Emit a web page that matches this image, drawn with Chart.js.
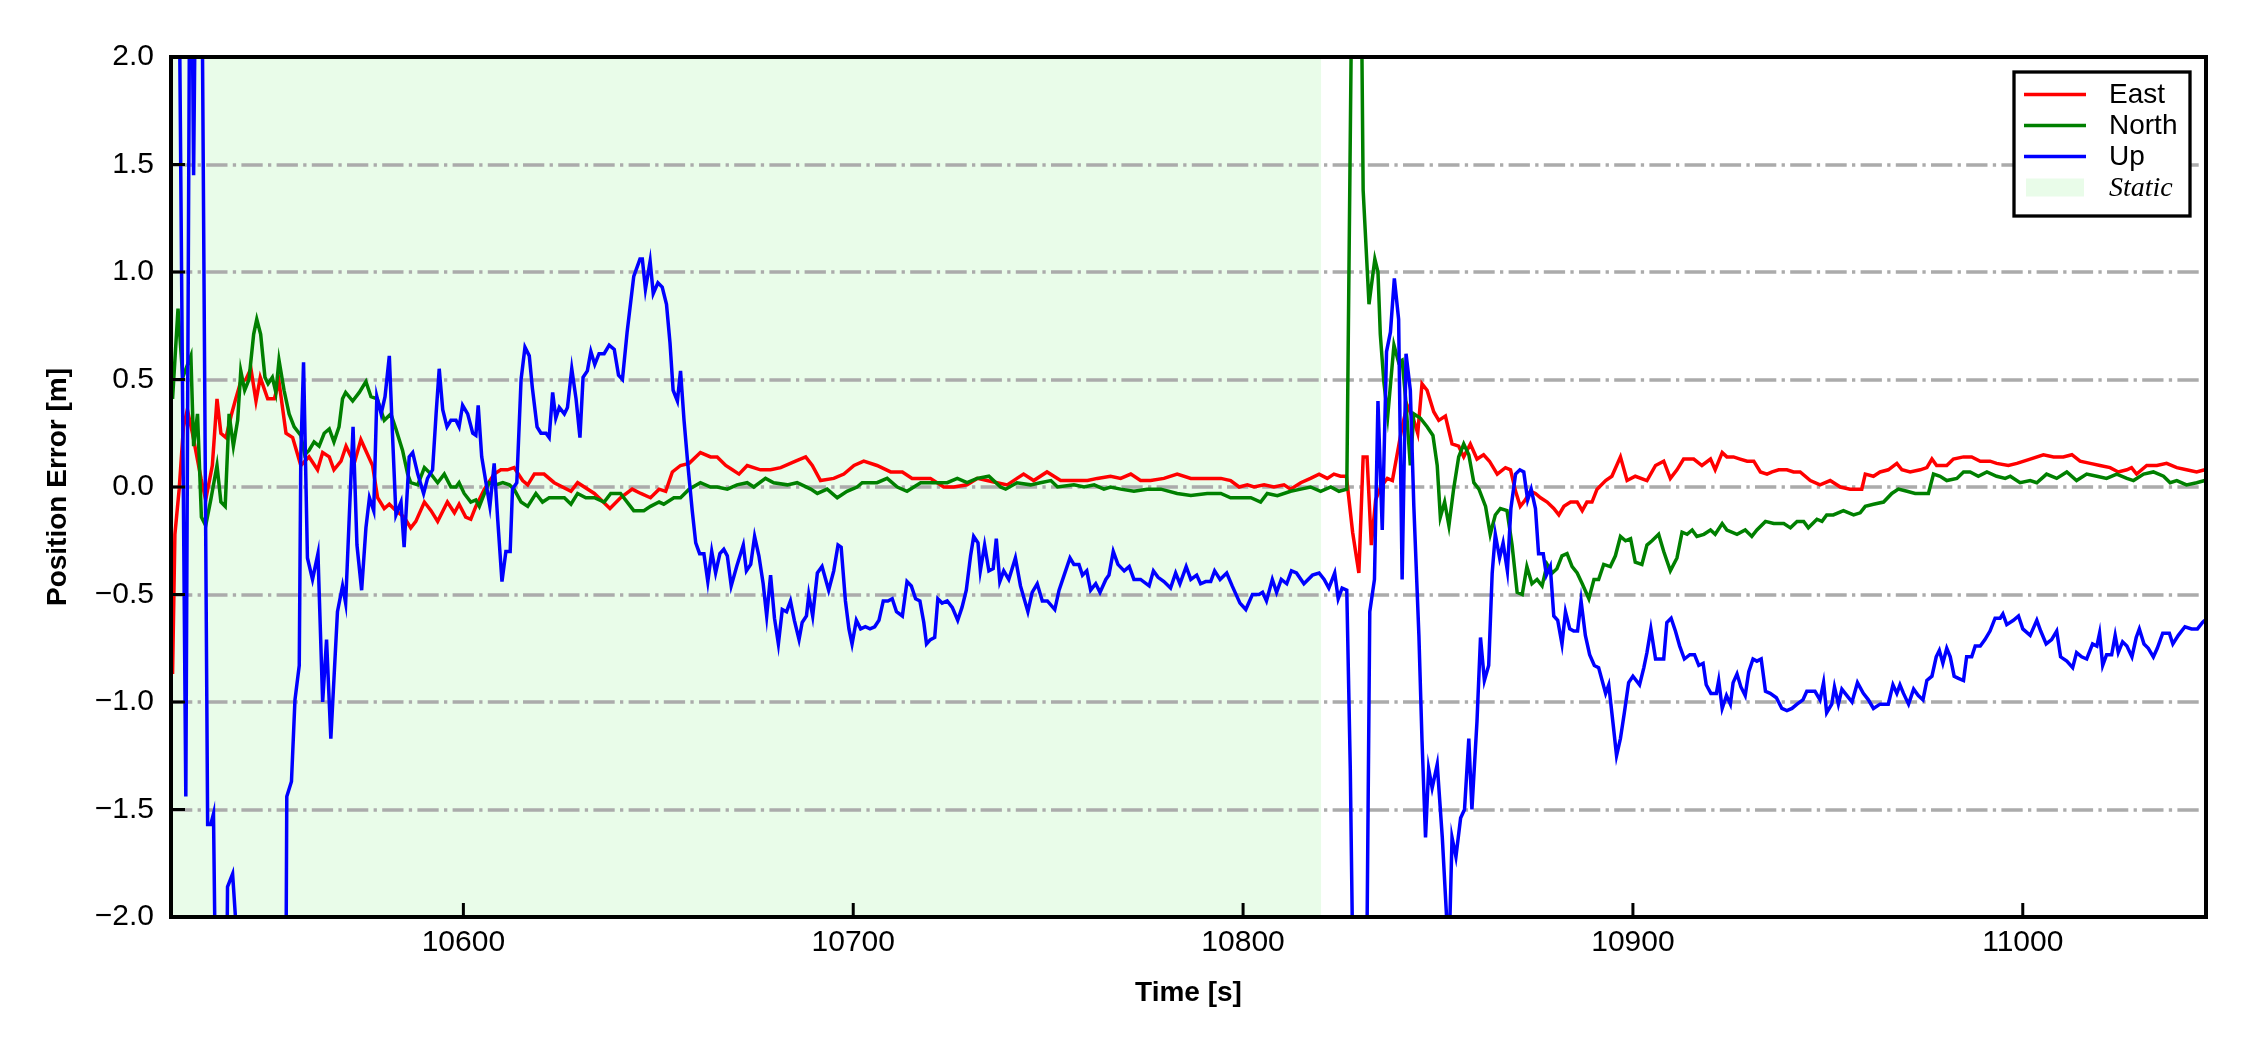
<!DOCTYPE html>
<html>
<head>
<meta charset="utf-8">
<script src="https://cdn.jsdelivr.net/npm/chart.js@4.4.1/dist/chart.umd.min.js"></script>
<style>
  html, body { margin: 0; padding: 0; background: #ffffff; }
  #wrap { width: 2250px; height: 1050px; }
</style>
</head>
<body>
<div id="wrap"><canvas id="chart" width="2250" height="1050"></canvas></div>
<script>
// ============================================================
// Position error (ENU) vs time, static window shaded
// ============================================================

// ---------- DATOS ----------
const xTicks = [10600, 10700, 10800, 10900, 11000];
const yTicks = [-2, -1.5, -1, -0.5, 0, 0.5, 1, 1.5, 2];
const staticSpan = [10525, 10820];

const eastTime = [
  10525.4, 10526.0, 10527.1, 10528.2, 10529.2, 10530.5, 10532.7, 10533.9, 10535.6, 10536.8,
  10537.8, 10539.1, 10540.4, 10541.6, 10542.9, 10544.2, 10545.5, 10546.8, 10547.9, 10549.8,
  10551.5, 10552.7, 10554.5, 10556.2, 10558.3, 10560.4, 10562.6, 10563.9, 10565.6, 10566.8,
  10568.6, 10569.9, 10572.0, 10573.7, 10576.7, 10578.0, 10579.7, 10581.0, 10582.7, 10584.8,
  10586.5, 10587.8, 10590.0, 10591.7, 10593.4, 10595.9, 10597.7, 10598.9, 10600.6, 10601.9,
  10603.2, 10605.4, 10607.9, 10609.6, 10611.3, 10613.0, 10615.2, 10616.5, 10618.2, 10620.7,
  10623.3, 10627.6, 10629.3, 10633.6, 10637.6, 10640.3, 10643.3, 10645.5, 10648.0, 10650.2,
  10651.9, 10653.6, 10655.7, 10657.9, 10660.8, 10663.4, 10665.1, 10667.3, 10669.0, 10670.7,
  10672.8, 10676.2, 10678.8, 10681.4, 10685.2, 10687.8, 10689.5, 10691.6, 10695.0, 10697.6,
  10700.2, 10702.7, 10706.1, 10709.6, 10712.6, 10715.1, 10719.8, 10723.2, 10725.8, 10729.2,
  10731.8, 10736.9, 10739.5, 10742.0, 10743.7, 10746.3, 10749.7, 10753.2, 10756.6, 10760.1,
  10762.6, 10766.0, 10768.6, 10771.2, 10773.7, 10776.3, 10779.7, 10783.1, 10786.6, 10790.8,
  10794.3, 10796.8, 10799.0, 10801.1, 10802.8, 10805.4, 10807.9, 10810.5, 10812.2, 10814.8,
  10817.3, 10819.5, 10821.6, 10823.3, 10825.0, 10826.5, 10828.1, 10829.7, 10830.8, 10831.8,
  10832.9, 10834.0, 10835.3, 10837.0, 10838.3, 10839.5, 10840.8, 10842.1, 10843.8, 10844.8,
  10845.9, 10847.2, 10848.9, 10850.2, 10851.9, 10853.6, 10855.3, 10856.6, 10858.3, 10860.0,
  10861.7, 10863.2, 10865.2, 10867.3, 10868.6, 10869.9, 10871.1, 10872.4, 10873.7, 10875.0,
  10876.3, 10878.0, 10879.7, 10881.0, 10882.3, 10884.0, 10885.7, 10887.0, 10888.2, 10889.5,
  10890.8, 10893.0, 10894.6, 10896.8, 10898.5, 10900.6, 10903.6, 10905.8, 10907.9, 10909.6,
  10911.3, 10913.0, 10915.6, 10917.7, 10919.9, 10921.1, 10922.9, 10924.1, 10925.8, 10927.5,
  10929.3, 10931.0, 10932.7, 10934.4, 10935.7, 10937.4, 10939.5, 10941.2, 10942.9, 10945.5,
  10948.0, 10950.6, 10953.2, 10955.7, 10958.7, 10959.6, 10961.7, 10963.4, 10965.5, 10967.7,
  10969.0, 10971.1, 10973.7, 10975.4, 10976.7, 10977.9, 10980.5, 10982.2, 10984.8, 10986.9,
  10989.1, 10991.6, 10993.3, 10996.3, 10998.5, 11001.9, 11005.3, 11007.9, 11010.4, 11012.6,
  11014.7, 11017.3, 11019.8, 11022.4, 11024.5, 11026.7, 11027.9, 11029.2, 11031.8, 11034.4,
  11036.9, 11039.5, 11042.0, 11044.6, 11046.7
];
const eastErr = [
  -0.87, -0.22, -0.01, 0.28, 0.36, 0.25, 0.04, -0.06, 0.10, 0.41,
  0.25, 0.23, 0.33, 0.41, 0.49, 0.50, 0.55, 0.40, 0.51, 0.41,
  0.41, 0.49, 0.25, 0.23, 0.10, 0.14, 0.08, 0.16, 0.14, 0.08,
  0.12, 0.19, 0.11, 0.22, 0.10, -0.05, -0.10, -0.08, -0.11, -0.14,
  -0.19, -0.16, -0.07, -0.11, -0.16, -0.07, -0.12, -0.08, -0.14, -0.15,
  -0.09, -0.01, 0.06, 0.08, 0.08, 0.09, 0.03, 0.01, 0.06, 0.06,
  0.02, -0.02, 0.02, -0.03, -0.10, -0.05, -0.01, -0.03, -0.05, -0.01,
  -0.02, 0.07, 0.10, 0.11, 0.16, 0.14, 0.14, 0.10, 0.08, 0.06,
  0.10, 0.08, 0.08, 0.09, 0.12, 0.14, 0.10, 0.03, 0.04, 0.06,
  0.10, 0.12, 0.10, 0.07, 0.07, 0.04, 0.04, 0.00, 0.00, 0.01,
  0.04, 0.02, 0.01, 0.04, 0.06, 0.03, 0.07, 0.03, 0.03, 0.03,
  0.04, 0.05, 0.04, 0.06, 0.03, 0.03, 0.04, 0.06, 0.04, 0.04,
  0.04, 0.03, 0.00, 0.01, 0.00, 0.01, 0.00, 0.01, -0.01, 0.02,
  0.04, 0.06, 0.04, 0.06, 0.05, 0.05, -0.21, -0.40, 0.14, 0.14,
  -0.27, -0.06, 0.00, 0.04, 0.03, 0.15, 0.28, 0.38, 0.31, 0.25,
  0.48, 0.45, 0.35, 0.31, 0.33, 0.20, 0.19, 0.14, 0.20, 0.13,
  0.15, 0.12, 0.06, 0.09, 0.08, -0.02, -0.09, -0.06, -0.02, -0.03,
  -0.05, -0.07, -0.10, -0.13, -0.09, -0.07, -0.07, -0.11, -0.07, -0.07,
  -0.01, 0.03, 0.05, 0.14, 0.03, 0.05, 0.03, 0.10, 0.12, 0.04,
  0.08, 0.13, 0.13, 0.10, 0.13, 0.08, 0.16, 0.14, 0.14, 0.13,
  0.12, 0.12, 0.07, 0.06, 0.07, 0.08, 0.08, 0.07, 0.07, 0.03,
  0.01, 0.03, 0.00, -0.01, -0.01, 0.06, 0.05, 0.07, 0.08, 0.11,
  0.08, 0.07, 0.08, 0.09, 0.13, 0.10, 0.10, 0.13, 0.14, 0.14,
  0.12, 0.12, 0.11, 0.10, 0.11, 0.13, 0.15, 0.14, 0.14, 0.15,
  0.12, 0.11, 0.10, 0.09, 0.07, 0.08, 0.09, 0.06, 0.10, 0.10,
  0.11, 0.09, 0.08, 0.07, 0.08
];

const northTime = [
  10525.4, 10526.8, 10528.0, 10530.1, 10530.8, 10531.8, 10532.8, 10533.9, 10535.2, 10536.8,
  10537.8, 10538.9, 10539.9, 10541.0, 10542.1, 10542.9, 10543.9, 10545.0, 10546.2, 10547.0,
  10548.0, 10549.1, 10549.9, 10551.0, 10551.9, 10552.7, 10554.0, 10555.3, 10556.6, 10558.3,
  10559.3, 10560.4, 10561.7, 10563.0, 10564.3, 10565.6, 10566.8, 10568.1, 10569.0, 10569.8,
  10571.6, 10573.3, 10575.0, 10576.3, 10577.9, 10579.7, 10581.4, 10582.7, 10584.4, 10585.7,
  10586.5, 10588.3, 10590.0, 10591.7, 10593.4, 10595.1, 10596.8, 10598.1, 10598.9, 10600.2,
  10601.9, 10603.2, 10604.1, 10605.4, 10606.6, 10608.3, 10610.1, 10611.8, 10613.0, 10614.8,
  10616.5, 10618.6, 10620.3, 10622.0, 10623.7, 10625.9, 10627.6, 10629.3, 10631.4, 10633.6,
  10636.1, 10637.8, 10640.3, 10643.7, 10646.3, 10648.0, 10650.2, 10651.4, 10654.0, 10655.7,
  10657.9, 10660.8, 10663.4, 10665.1, 10667.7, 10670.2, 10672.8, 10674.5, 10677.5, 10679.6,
  10683.1, 10685.6, 10689.1, 10690.8, 10693.3, 10695.9, 10698.4, 10701.0, 10702.3, 10706.1,
  10708.7, 10711.3, 10713.8, 10717.3, 10720.7, 10724.1, 10726.7, 10729.2, 10731.8, 10734.8,
  10737.8, 10739.1, 10742.0, 10745.5, 10748.0, 10750.7, 10752.4, 10756.6, 10759.2, 10761.8,
  10764.3, 10766.0, 10768.6, 10772.0, 10775.4, 10778.9, 10783.1, 10786.6, 10790.8, 10794.3,
  10796.8, 10799.4, 10802.0, 10804.5, 10806.2, 10808.8, 10812.2, 10814.8, 10817.3, 10819.9,
  10822.5, 10824.6, 10826.6, 10828.8, 10830.0, 10830.8, 10832.3, 10833.8, 10834.6, 10835.2,
  10836.1, 10837.1, 10838.7, 10839.9, 10840.8, 10841.7, 10842.9, 10843.8, 10845.5, 10847.2,
  10848.7, 10849.8, 10850.6, 10851.7, 10852.8, 10854.0, 10855.3, 10856.6, 10857.9, 10859.2,
  10860.5, 10862.2, 10863.4, 10864.7, 10866.0, 10867.7, 10869.0, 10870.3, 10871.6, 10872.8,
  10874.1, 10875.4, 10876.7, 10878.0, 10879.3, 10880.5, 10881.8, 10883.1, 10884.4, 10885.7,
  10887.0, 10888.7, 10890.0, 10891.2, 10892.5, 10894.2, 10895.5, 10896.8, 10898.1, 10899.4,
  10900.6, 10902.3, 10903.6, 10904.9, 10906.6, 10907.9, 10909.6, 10911.3, 10912.6, 10913.9,
  10915.2, 10916.4, 10918.2, 10919.9, 10921.1, 10922.9, 10924.1, 10926.7, 10928.8, 10930.5,
  10931.8, 10934.0, 10936.1, 10938.7, 10940.4, 10942.1, 10943.8, 10945.0, 10947.2, 10948.5,
  10949.7, 10951.4, 10954.0, 10956.6, 10958.3, 10959.6, 10961.7, 10964.3, 10966.4, 10968.1,
  10970.3, 10972.4, 10975.8, 10977.1, 10978.8, 10980.5, 10983.1, 10984.8, 10986.5, 10988.6,
  10990.8, 10993.3, 10995.5, 10996.8, 10999.3, 11001.9, 11003.6, 11006.1, 11008.7, 11011.3,
  11013.8, 11016.4, 11019.0, 11021.5, 11024.1, 11026.7, 11028.4, 11031.0, 11033.5, 11036.1,
  11037.8, 11039.5, 11042.0, 11044.6, 11046.7
];
const northErr = [
  0.41, 0.83, 0.51, 0.61, 0.19, 0.34, -0.14, -0.18, -0.06, 0.10,
  -0.07, -0.09, 0.34, 0.19, 0.31, 0.54, 0.45, 0.50, 0.71, 0.78,
  0.71, 0.51, 0.48, 0.51, 0.44, 0.59, 0.45, 0.34, 0.28, 0.24,
  0.15, 0.17, 0.21, 0.19, 0.25, 0.27, 0.21, 0.28, 0.41, 0.44,
  0.40, 0.44, 0.49, 0.42, 0.41, 0.31, 0.34, 0.27, 0.17, 0.06,
  0.02, 0.01, 0.09, 0.06, 0.02, 0.06, 0.00, 0.00, 0.02, -0.03,
  -0.07, -0.06, -0.09, -0.03, 0.02, 0.01, 0.02, 0.01, -0.01, -0.07,
  -0.09, -0.03, -0.07, -0.05, -0.05, -0.05, -0.08, -0.03, -0.05, -0.05,
  -0.07, -0.03, -0.03, -0.11, -0.11, -0.09, -0.07, -0.08, -0.05, -0.05,
  -0.01, 0.02, 0.00, 0.00, -0.01, 0.01, 0.02, 0.00, 0.04, 0.02,
  0.01, 0.02, -0.01, -0.03, -0.01, -0.05, -0.02, 0.00, 0.02, 0.02,
  0.04, 0.00, -0.02, 0.02, 0.02, 0.02, 0.04, 0.02, 0.04, 0.05,
  0.00, -0.01, 0.02, 0.01, 0.02, 0.03, 0.00, 0.01, 0.00, 0.01,
  -0.01, 0.00, -0.01, -0.02, -0.01, -0.01, -0.03, -0.04, -0.03, -0.03,
  -0.05, -0.05, -0.05, -0.07, -0.03, -0.04, -0.02, -0.01, 0.00, -0.02,
  0.00, -0.02, -0.01, 4.00, 3.00, 1.38, 0.85, 1.06, 1.00, 0.71,
  0.49, 0.33, 0.66, 0.58, 0.59, 0.41, 0.10, 0.34, 0.32, 0.28,
  0.24, 0.10, -0.14, -0.07, -0.18, -0.01, 0.14, 0.20, 0.15, 0.02,
  -0.01, -0.09, -0.22, -0.13, -0.10, -0.11, -0.27, -0.49, -0.50, -0.37,
  -0.45, -0.43, -0.46, -0.36, -0.40, -0.38, -0.32, -0.31, -0.37, -0.40,
  -0.45, -0.52, -0.43, -0.43, -0.36, -0.37, -0.32, -0.23, -0.25, -0.24,
  -0.35, -0.36, -0.27, -0.25, -0.22, -0.30, -0.39, -0.33, -0.21, -0.22,
  -0.20, -0.23, -0.22, -0.20, -0.22, -0.17, -0.20, -0.22, -0.20, -0.23,
  -0.20, -0.16, -0.17, -0.17, -0.19, -0.16, -0.16, -0.19, -0.15, -0.16,
  -0.13, -0.13, -0.11, -0.13, -0.12, -0.09, -0.08, -0.07, -0.03, -0.01,
  -0.02, -0.03, -0.03, 0.06, 0.05, 0.03, 0.04, 0.07, 0.07, 0.05,
  0.07, 0.05, 0.04, 0.05, 0.02, 0.03, 0.02, 0.06, 0.04, 0.07,
  0.03, 0.06, 0.05, 0.04, 0.06, 0.04, 0.03, 0.06, 0.07, 0.05,
  0.02, 0.03, 0.01, 0.02, 0.03
];

const upTime = [
  10525.4, 10527.0, 10528.8, 10530.0, 10530.8, 10531.8, 10532.5, 10534.4, 10535.2, 10535.9,
  10537.0, 10539.0, 10539.5, 10540.8, 10543.0, 10546.0, 10550.0, 10554.3, 10554.7, 10555.9,
  10556.8, 10557.9, 10558.3, 10559.0, 10560.0, 10561.3, 10562.7, 10563.9, 10564.9, 10566.0,
  10567.7, 10569.0, 10569.8, 10571.7, 10572.7, 10573.9, 10575.0, 10575.9, 10577.0, 10577.8,
  10578.9, 10579.9, 10581.0, 10581.8, 10582.7, 10584.0, 10584.8, 10586.1, 10587.0, 10588.3,
  10589.8, 10590.8, 10592.1, 10593.0, 10593.8, 10594.7, 10595.8, 10596.8, 10598.1, 10598.9,
  10599.8, 10601.1, 10602.4, 10603.2, 10603.8, 10604.7, 10605.8, 10606.8, 10607.9, 10608.8,
  10609.9, 10610.9, 10612.0, 10612.6, 10613.7, 10614.8, 10615.8, 10616.9, 10617.7, 10618.9,
  10619.9, 10621.2, 10622.0, 10622.9, 10623.7, 10624.6, 10625.9, 10626.7, 10627.8, 10628.9,
  10629.9, 10630.7, 10631.8, 10632.7, 10633.7, 10634.8, 10636.1, 10637.4, 10638.7, 10639.8,
  10640.8, 10642.0, 10643.7, 10645.3, 10645.9, 10646.7, 10647.9, 10648.7, 10649.9, 10651.0,
  10652.1, 10653.0, 10653.8, 10654.9, 10655.7, 10656.6, 10657.6, 10658.7, 10659.6, 10660.6,
  10661.7, 10662.7, 10663.7, 10664.7, 10665.8, 10666.8, 10667.7, 10668.7, 10670.1, 10671.8,
  10672.6, 10673.7, 10674.7, 10675.8, 10676.9, 10677.8, 10678.8, 10679.8, 10680.8, 10681.8,
  10682.9, 10683.9, 10684.9, 10686.1, 10686.9, 10688.0, 10688.6, 10689.6, 10690.8, 10692.0,
  10693.7, 10695.0, 10696.1, 10696.9, 10698.0, 10698.9, 10699.7, 10700.8, 10701.9, 10703.1,
  10704.3, 10705.5, 10706.6, 10707.7, 10708.9, 10710.0, 10711.1, 10712.6, 10713.8, 10714.9,
  10716.0, 10717.1, 10718.1, 10718.8, 10719.8, 10720.9, 10721.7, 10722.8, 10724.1, 10725.4,
  10726.8, 10727.9, 10729.0, 10730.1, 10730.9, 10732.0, 10732.6, 10733.7, 10734.8, 10735.9,
  10736.7, 10737.6, 10738.6, 10739.9, 10741.6, 10742.9, 10744.8, 10745.9, 10747.2, 10748.5,
  10749.8, 10751.7, 10752.8, 10754.1, 10755.6, 10756.6, 10757.9, 10758.8, 10759.9, 10760.9,
  10762.2, 10763.3, 10764.8, 10765.6, 10766.7, 10767.9, 10769.5, 10770.8, 10772.0, 10773.7,
  10775.9, 10777.0, 10778.2, 10779.7, 10781.4, 10782.7, 10783.8, 10785.4, 10786.6, 10788.1,
  10789.1, 10790.4, 10791.7, 10792.7, 10794.1, 10795.8, 10797.2, 10799.2, 10800.7, 10802.4,
  10804.1, 10805.0, 10806.0, 10807.5, 10808.6, 10809.8, 10811.2, 10812.4, 10813.7, 10815.6,
  10817.8, 10819.5, 10820.8, 10822.0, 10823.5, 10824.4, 10825.4, 10826.6, 10827.5, 10829.0,
  10831.0, 10831.4, 10832.5, 10833.7, 10834.6, 10835.7, 10836.8, 10837.8, 10838.8, 10839.9,
  10840.8, 10841.8, 10842.9, 10843.8, 10845.1, 10845.9, 10846.8, 10847.6, 10848.5, 10849.8,
  10851.1, 10852.5, 10853.0, 10853.6, 10854.6, 10855.8, 10856.8, 10857.9, 10858.7, 10860.0,
  10860.9, 10861.9, 10863.0, 10863.9, 10864.7, 10865.8, 10866.7, 10867.8, 10868.7, 10869.9,
  10871.0, 10872.0, 10873.0, 10873.9, 10875.0, 10875.8, 10877.0, 10877.8, 10878.8, 10879.7,
  10880.7, 10881.8, 10882.7, 10883.8, 10884.8, 10885.8, 10886.7, 10887.8, 10888.9, 10890.1,
  10891.2, 10892.1, 10893.0, 10893.8, 10894.9, 10895.8, 10896.8, 10897.8, 10898.9, 10900.0,
  10901.7, 10902.8, 10903.6, 10904.6, 10905.8, 10906.9, 10907.9, 10908.7, 10909.8, 10910.9,
  10912.0, 10913.2, 10914.6, 10915.8, 10916.9, 10918.0, 10918.8, 10920.0, 10921.4, 10922.0,
  10922.9, 10924.0, 10925.0, 10925.7, 10926.7, 10927.7, 10928.8, 10929.7, 10930.8, 10931.8,
  10932.9, 10934.0, 10935.2, 10936.8, 10938.2, 10939.5, 10940.8, 10942.1, 10943.6, 10944.6,
  10946.7, 10948.0, 10948.9, 10949.7, 10951.0, 10951.7, 10952.7, 10953.6, 10954.9, 10956.2,
  10957.6, 10959.1, 10960.4, 10961.7, 10963.4, 10965.5, 10966.7, 10967.7, 10968.5, 10969.4,
  10970.7, 10972.0, 10973.2, 10974.4, 10975.4, 10976.7, 10977.8, 10978.6, 10979.5, 10980.5,
  10981.4, 10982.4, 10983.5, 10984.8, 10985.6, 10986.9, 10987.8, 10989.1, 10990.3, 10991.6,
  10992.9, 10994.2, 10994.9, 10995.9, 10997.6, 10998.9, 11000.0, 11001.9, 11003.6, 11004.6,
  11006.0, 11007.4, 11008.7, 11009.7, 11011.3, 11012.8, 11013.8, 11015.1, 11016.4, 11017.9,
  11019.0, 11019.7, 11020.5, 11021.5, 11022.8, 11023.7, 11024.5, 11025.6, 11026.7, 11028.0,
  11029.1, 11029.9, 11031.1, 11032.2, 11033.5, 11034.5, 11035.9, 11037.6, 11038.5, 11039.9,
  11041.6, 11043.3, 11044.8, 11046.1, 11046.7
];
const upErr = [
  3.50, 2.60, -1.44, 3.20, 1.45, 3.40, 3.60, -1.57, -1.57, -1.52,
  -3.20, -3.00, -1.86, -1.80, -2.40, -3.50, -3.40, -3.00, -1.44, -1.37,
  -0.99, -0.83, 0.15, 0.58, -0.33, -0.43, -0.31, -1.00, -0.71, -1.17,
  -0.58, -0.46, -0.54, 0.28, -0.27, -0.48, -0.19, -0.05, -0.11, 0.42,
  0.34, 0.42, 0.61, 0.25, -0.13, -0.07, -0.28, 0.14, 0.16, 0.06,
  -0.03, 0.04, 0.08, 0.34, 0.55, 0.36, 0.28, 0.31, 0.31, 0.28,
  0.38, 0.34, 0.25, 0.24, 0.38, 0.14, 0.02, -0.09, 0.11, -0.15,
  -0.44, -0.30, -0.30, -0.01, 0.02, 0.50, 0.65, 0.61, 0.46, 0.28,
  0.25, 0.25, 0.23, 0.44, 0.32, 0.37, 0.34, 0.37, 0.55, 0.41,
  0.23, 0.51, 0.54, 0.63, 0.57, 0.62, 0.62, 0.66, 0.64, 0.52,
  0.50, 0.72, 0.98, 1.06, 1.06, 0.92, 1.05, 0.90, 0.95, 0.93,
  0.85, 0.67, 0.45, 0.40, 0.54, 0.31, 0.10, -0.11, -0.26, -0.31,
  -0.31, -0.44, -0.30, -0.40, -0.31, -0.29, -0.32, -0.46, -0.37, -0.27,
  -0.39, -0.36, -0.23, -0.32, -0.45, -0.60, -0.41, -0.61, -0.73, -0.57,
  -0.58, -0.53, -0.62, -0.71, -0.63, -0.60, -0.50, -0.60, -0.40, -0.37,
  -0.48, -0.39, -0.27, -0.28, -0.53, -0.66, -0.73, -0.62, -0.66, -0.65,
  -0.66, -0.65, -0.62, -0.53, -0.53, -0.52, -0.58, -0.60, -0.44, -0.46,
  -0.52, -0.53, -0.63, -0.73, -0.71, -0.70, -0.52, -0.54, -0.53, -0.56,
  -0.62, -0.56, -0.48, -0.32, -0.23, -0.26, -0.39, -0.27, -0.39, -0.38,
  -0.24, -0.44, -0.39, -0.43, -0.33, -0.46, -0.58, -0.49, -0.45, -0.53,
  -0.53, -0.57, -0.48, -0.41, -0.33, -0.36, -0.36, -0.41, -0.39, -0.48,
  -0.45, -0.49, -0.43, -0.41, -0.30, -0.36, -0.39, -0.37, -0.43, -0.43,
  -0.46, -0.39, -0.42, -0.44, -0.47, -0.40, -0.45, -0.37, -0.43, -0.41,
  -0.45, -0.44, -0.44, -0.39, -0.43, -0.40, -0.46, -0.54, -0.57, -0.50,
  -0.50, -0.49, -0.53, -0.43, -0.49, -0.43, -0.45, -0.39, -0.40, -0.45,
  -0.41, -0.40, -0.43, -0.47, -0.40, -0.52, -0.47, -0.48, -1.31, -3.40,
  -3.20, -2.90, -0.58, -0.43, 0.40, -0.20, 0.63, 0.72, 0.97, 0.78,
  -0.43, 0.62, 0.45, -0.09, -0.69, -1.18, -1.63, -1.31, -1.40, -1.29,
  -1.63, -2.10, -2.05, -1.63, -1.72, -1.54, -1.50, -1.17, -1.50, -1.09,
  -0.70, -0.90, -0.83, -0.40, -0.22, -0.33, -0.26, -0.39, -0.10, 0.06,
  0.08, 0.07, -0.06, -0.01, -0.10, -0.31, -0.31, -0.41, -0.37, -0.60,
  -0.62, -0.73, -0.58, -0.66, -0.67, -0.67, -0.53, -0.69, -0.78, -0.83,
  -0.84, -0.90, -0.96, -0.92, -1.10, -1.25, -1.17, -1.05, -0.91, -0.88,
  -0.92, -0.84, -0.77, -0.66, -0.80, -0.80, -0.80, -0.63, -0.61, -0.67,
  -0.74, -0.80, -0.78, -0.78, -0.83, -0.82, -0.92, -0.96, -0.96, -0.90,
  -1.03, -0.97, -1.01, -0.91, -0.87, -0.93, -0.97, -0.86, -0.80, -0.81,
  -0.80, -0.95, -0.96, -0.98, -1.03, -1.04, -1.03, -1.01, -0.99, -0.95,
  -0.95, -0.99, -0.91, -1.05, -1.01, -0.93, -1.01, -0.94, -0.97, -1.00,
  -0.91, -0.96, -0.99, -1.03, -1.01, -1.01, -0.92, -0.96, -0.92, -0.96,
  -1.01, -0.94, -0.97, -0.99, -0.90, -0.88, -0.79, -0.76, -0.82, -0.75,
  -0.79, -0.88, -0.89, -0.90, -0.79, -0.79, -0.74, -0.74, -0.71, -0.67,
  -0.61, -0.61, -0.59, -0.64, -0.62, -0.60, -0.66, -0.69, -0.62, -0.67,
  -0.73, -0.71, -0.67, -0.79, -0.81, -0.84, -0.77, -0.79, -0.80, -0.73,
  -0.74, -0.68, -0.83, -0.78, -0.78, -0.69, -0.77, -0.72, -0.74, -0.79,
  -0.70, -0.66, -0.73, -0.75, -0.79, -0.75, -0.68, -0.68, -0.73, -0.69,
  -0.65, -0.66, -0.66, -0.63, -0.62
];

// ---------- ESTILO ----------
const SANS = '"Liberation Sans", Arial, "DejaVu Sans", sans-serif';
const SERIF = '"Liberation Serif", "Times New Roman", serif';
const STATIC_FILL = '#e9fce9';

const toPoints = (xs, ys) => xs.map((x, i) => ({ x, y: ys[i] }));
const fmtY = (v) => v.toFixed(1).replace('-', '\u2212');

// ---------- PLUGIN: sombreado, rejilla, marco, ticks internos, leyenda ----------
const framePlugin = {
    id: 'frame',
    beforeDatasetsDraw(chart) {
        const { ctx, chartArea: a, scales: { x, y } } = chart;
        ctx.save();
        ctx.beginPath();
        ctx.rect(a.left, a.top, a.right - a.left, a.bottom - a.top);
        ctx.clip();

        // ventana estática
        const x0 = x.getPixelForValue(staticSpan[0]);
        const x1 = x.getPixelForValue(staticSpan[1]);
        ctx.fillStyle = STATIC_FILL;
        ctx.fillRect(Math.min(x0, a.left), a.top, x1 - Math.min(x0, a.left), a.bottom - a.top);

        // rejilla horizontal dash-dot
        ctx.strokeStyle = '#ababab';
        ctx.lineWidth = 3.3;
        ctx.lineCap = 'butt';
        ctx.setLineDash([21.3, 5.3, 3.3, 5.3]);
        yTicks.forEach(v => {
            if (v <= y.min || v >= y.max) return;
            const py = Math.round(y.getPixelForValue(v));
            ctx.beginPath();
            ctx.moveTo(a.left, py);
            ctx.lineTo(a.right, py);
            ctx.stroke();
        });
        ctx.restore();
    },
    afterDatasetsDraw(chart) {
        const { ctx, chartArea: a, scales: { x, y } } = chart;
        ctx.save();
        ctx.setLineDash([]);
        ctx.strokeStyle = '#000000';

        // ticks hacia adentro
        ctx.lineWidth = 3;
        yTicks.forEach(v => {
            const py = y.getPixelForValue(v);
            ctx.beginPath();
            ctx.moveTo(a.left, py);
            ctx.lineTo(a.left + 14, py);
            ctx.stroke();
        });
        xTicks.forEach(v => {
            const px = x.getPixelForValue(v);
            ctx.beginPath();
            ctx.moveTo(px, a.bottom);
            ctx.lineTo(px, a.bottom - 14);
            ctx.stroke();
        });

        // marco
        ctx.lineWidth = 4;
        ctx.strokeRect(a.left, a.top, a.right - a.left, a.bottom - a.top);

        // leyenda
        const box = { left: a.right - 192, top: a.top + 15, w: 176, h: 144 };
        ctx.fillStyle = '#ffffff';
        ctx.fillRect(box.left, box.top, box.w, box.h);
        ctx.lineWidth = 3.3;
        ctx.strokeRect(box.left, box.top, box.w, box.h);

        const rowY = (i) => box.top + 22.5 + i * 31;
        ctx.textBaseline = 'middle';
        ctx.textAlign = 'left';
        chart.data.datasets.forEach((ds, i) => {
            const ry = rowY(i);
            ctx.strokeStyle = ds.borderColor;
            ctx.lineWidth = 3.5;
            ctx.beginPath();
            ctx.moveTo(box.left + 10, ry);
            ctx.lineTo(box.left + 72, ry);
            ctx.stroke();
            ctx.fillStyle = '#000000';
            ctx.font = `28px ${SANS}`;
            ctx.fillText(ds.label, box.left + 95, ry + 1);
        });
        const sy = rowY(3);
        ctx.fillStyle = STATIC_FILL;
        ctx.fillRect(box.left + 12, sy - 9, 58, 18);
        ctx.fillStyle = '#000000';
        ctx.font = `italic 28px ${SERIF}`;
        ctx.fillText('Static', box.left + 95, sy + 1);

        ctx.restore();
    }
};

// ---------- CHART ----------
const lineDs = (label, xs, ys, color, order) => ({
    label,
    data: toPoints(xs, ys),
    borderColor: color,
    backgroundColor: color,
    borderWidth: 3.5,
    pointRadius: 0,
    pointHoverRadius: 0,
    tension: 0,
    fill: false,
    order
});

new Chart(document.getElementById('chart'), {
    type: 'line',
    data: {
        datasets: [
            lineDs('East', eastTime, eastErr, '#ff0000', 3),
            lineDs('North', northTime, northErr, '#008000', 2),
            lineDs('Up', upTime, upErr, '#0000ff', 1)
        ]
    },
    options: {
        responsive: false,
        animation: false,
        devicePixelRatio: 1,
        events: [],
        layout: { padding: { left: 0, top: 57, right: 44, bottom: 0 } },
        plugins: {
            legend: { display: false },
            tooltip: { enabled: false },
            title: { display: false }
        },
        scales: {
            x: {
                type: 'linear',
                min: 10525,
                max: 11047,
                grid: { display: false, drawTicks: false },
                border: { display: false },
                afterBuildTicks: (scale) => { scale.ticks = xTicks.map(v => ({ value: v })); },
                afterFit: (scale) => { scale.height = 133; },
                ticks: {
                    autoSkip: false,
                    maxRotation: 0,
                    padding: 8,
                    color: '#000000',
                    font: { family: SANS, size: 30 },
                    callback: (v) => String(v)
                },
                title: {
                    display: true,
                    text: 'Time [s]',
                    color: '#000000',
                    font: { family: SANS, size: 28, weight: 'bold' },
                    padding: { top: 40, bottom: 40 }
                }
            },
            y: {
                type: 'linear',
                min: -2,
                max: 2,
                grid: { display: false, drawTicks: false },
                border: { display: false },
                afterBuildTicks: (scale) => { scale.ticks = yTicks.map(v => ({ value: v })); },
                afterFit: (scale) => { scale.width = 171; },
                ticks: {
                    autoSkip: false,
                    padding: 17,
                    color: '#000000',
                    font: { family: SANS, size: 30 },
                    callback: (v) => fmtY(v)
                },
                title: {
                    display: true,
                    text: 'Position Error [m]',
                    color: '#000000',
                    font: { family: SANS, size: 28, weight: 'bold' },
                    padding: { top: 41, bottom: 41 }
                }
            }
        }
    },
    plugins: [framePlugin]
});
</script>
</body>
</html>
